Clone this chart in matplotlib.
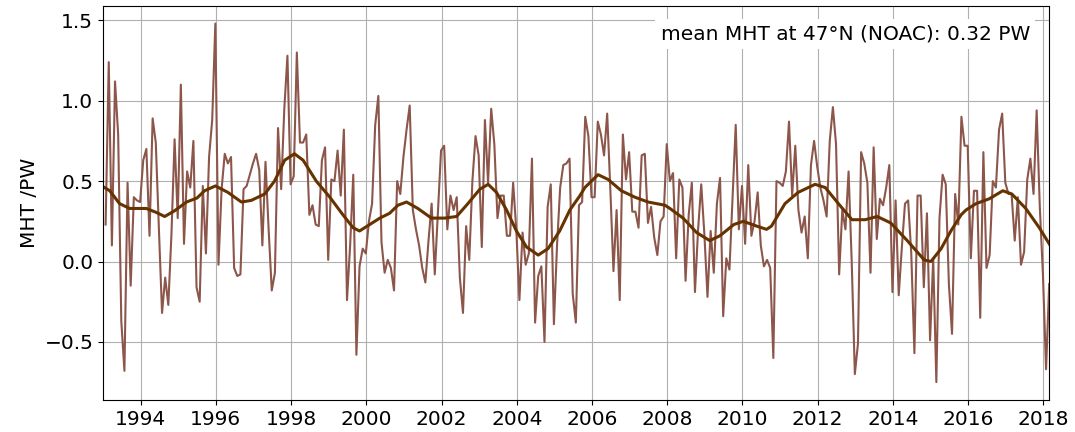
import numpy as np
import matplotlib
matplotlib.use("Agg")
import matplotlib.pyplot as plt

# monthly MHT at 47N (PW), Jan 1993 onwards
start_year = 1993.07
mht = [0.23, 1.24, 0.10, 1.12, 0.79, -0.37, -0.68, 0.49, -0.15, 0.40,
       0.38, 0.37, 0.63, 0.70, 0.16, 0.89, 0.74, 0.20, -0.32, -0.10,
       -0.27, 0.17, 0.76, 0.27, 1.10, 0.11, 0.56, 0.46, 0.75, -0.16,
       -0.25, 0.47, 0.05, 0.65, 0.88, 1.48, -0.02, 0.45, 0.67, 0.61,
       0.65, -0.04, -0.09, -0.08, 0.45, 0.47, 0.54, 0.61, 0.67, 0.57,
       0.10, 0.62, 0.20, -0.18, -0.07, 0.83, 0.45, 0.95, 1.28, 0.48,
       0.53, 1.30, 0.74, 0.74, 0.79, 0.29, 0.35, 0.23, 0.22, 0.63,
       0.71, 0.01, 0.51, 0.50, 0.69, 0.41, 0.82, -0.24, 0.10, 0.54,
       -0.58, -0.03, 0.08, 0.05, 0.25, 0.36, 0.85, 1.03, 0.12, -0.07,
       0.01, -0.04, -0.18, 0.50, 0.42, 0.65, 0.82, 0.97, 0.32, 0.20,
       0.10, -0.04, -0.13, 0.13, 0.36, -0.08, 0.30, 0.69, 0.72, 0.20,
       0.41, 0.32, 0.40, -0.10, -0.32, 0.22, 0.01, 0.50, 0.78, 0.66,
       0.09, 0.88, 0.49, 0.95, 0.73, 0.27, 0.41, 0.41, 0.16, 0.16,
       0.49, 0.20, -0.24, 0.18, -0.02, 0.05, 0.64, -0.38, -0.09, -0.03,
       -0.50, 0.34, 0.48, -0.39, 0.10, 0.46, 0.60, 0.61, 0.64, -0.20,
       -0.38, 0.35, 0.37, 0.90, 0.78, 0.40, 0.40, 0.87, 0.79, 0.66,
       0.92, 0.45, -0.06, 0.32, -0.24, 0.79, 0.51, 0.68, 0.31, 0.31,
       0.21, 0.66, 0.67, 0.24, 0.34, 0.15, 0.04, 0.25, 0.28, 0.73,
       0.50, 0.55, 0.02, 0.51, 0.46, -0.12, 0.29, 0.49, -0.19, 0.20,
       0.48, 0.17, -0.22, 0.19, -0.07, 0.36, 0.52, -0.34, 0.02, -0.05,
       0.40, 0.85, 0.20, 0.47, 0.11, 0.60, 0.16, 0.25, 0.43, 0.10,
       -0.03, 0.01, -0.04, -0.60, 0.50, 0.49, 0.47, 0.56, 0.87, 0.41,
       0.72, 0.32, 0.18, 0.28, 0.02, 0.60, 0.75, 0.59, 0.46, 0.38,
       0.28, 0.75, 0.96, 0.73, -0.08, 0.32, 0.20, 0.56, 0.00, -0.70,
       -0.51, 0.68, 0.61, 0.49, -0.07, 0.71, 0.14, 0.39, 0.35, 0.46,
       0.60, -0.19, 0.38, -0.21, 0.09, 0.36, 0.38, 0.05, -0.57, 0.41,
       0.41, -0.16, 0.30, -0.49, 0.02, -0.75, 0.27, 0.54, 0.48, -0.14,
       -0.45, 0.42, 0.23, 0.90, 0.72, 0.72, 0.02, 0.44, 0.44, -0.35,
       0.68, -0.04, 0.04, 0.50, 0.46, 0.82, 0.92, 0.49, 0.42, 0.42,
       0.13, 0.40, -0.02, 0.06, 0.51, 0.64, 0.42, 0.94, 0.34, -0.08,
       -0.67, -0.14]

# low-pass filtered curve
smooth_year = [1993.04, 1993.18, 1993.44, 1993.71, 1994.15, 1994.42, 1994.64, 1994.90,
               1995.22, 1995.50, 1995.70, 1995.99, 1996.32, 1996.68, 1996.94, 1997.30,
               1997.56, 1997.83, 1998.09, 1998.32, 1998.67, 1999.03, 1999.38, 1999.65,
               1999.82, 2000.09, 2000.36, 2000.62, 2000.84, 2001.07, 2001.37, 2001.73,
               2002.08, 2002.40, 2002.70, 2003.02, 2003.24, 2003.46, 2003.73, 2003.99,
               2004.26, 2004.57, 2004.83, 2005.14, 2005.41, 2005.68, 2005.81, 2006.16,
               2006.43, 2006.78, 2007.14, 2007.49, 2007.94, 2008.07, 2008.42, 2008.78,
               2009.13, 2009.40, 2009.77, 2010.02, 2010.38, 2010.64, 2010.77, 2011.13,
               2011.48, 2011.93, 2012.20, 2012.55, 2012.91, 2013.26, 2013.58, 2013.94,
               2014.38, 2014.83, 2015.01, 2015.28, 2015.54, 2015.81, 2015.94, 2016.21,
               2016.56, 2016.92, 2017.16, 2017.53, 2017.89, 2018.18]
smooth_mht = [0.46, 0.44, 0.36, 0.33, 0.33, 0.305, 0.28, 0.315,
              0.37, 0.395, 0.44, 0.47, 0.43, 0.37, 0.38, 0.42,
              0.50, 0.63, 0.67, 0.63, 0.50, 0.40, 0.29, 0.21,
              0.19, 0.23, 0.27, 0.30, 0.35, 0.37, 0.33, 0.27,
              0.27, 0.28, 0.36, 0.45, 0.48, 0.43, 0.32, 0.19,
              0.09, 0.04, 0.08, 0.19, 0.32, 0.41, 0.46, 0.54,
              0.51, 0.44, 0.40, 0.37, 0.35, 0.33, 0.27, 0.18,
              0.13, 0.16, 0.23, 0.25, 0.22, 0.20, 0.22, 0.36,
              0.43, 0.48, 0.46, 0.36, 0.26, 0.26, 0.28, 0.24,
              0.13, 0.01, 0.00, 0.08, 0.19, 0.29, 0.32, 0.36,
              0.39, 0.44, 0.42, 0.33, 0.21, 0.10]

mean_mht = 0.32

time = start_year + np.arange(len(mht)) / 12.0

fig, ax = plt.subplots(figsize=(10.75, 4.32), dpi=100)
fig.subplots_adjust(left=0.0958, right=0.976, top=0.987, bottom=0.074)

ax.plot(time, mht, color="#8c564b", lw=1.5)
ax.plot(smooth_year, smooth_mht, color="#663300", lw=2.2)

ax.set_xlim(1993.0, time[-1])
ax.set_xticks(np.arange(1994, 2019, 2))
ax.set_yticks([-0.5, 0.0, 0.5, 1.0, 1.5])
ax.set_yticklabels(["\u22120.5", "0.0", "0.5", "1.0", "1.5"])
ax.tick_params(labelsize=14.5)
ax.set_ylabel("MHT /PW", fontsize=14.5)
ax.grid(True)

ax.text(0.9796, 0.928, "mean MHT at 47\u00b0N (NOAC): %.2f PW" % mean_mht,
        transform=ax.transAxes, ha="right", va="center", fontsize=14.5,
        bbox=dict(facecolor="white", edgecolor="none", pad=3.6))

plt.savefig("out.png")
